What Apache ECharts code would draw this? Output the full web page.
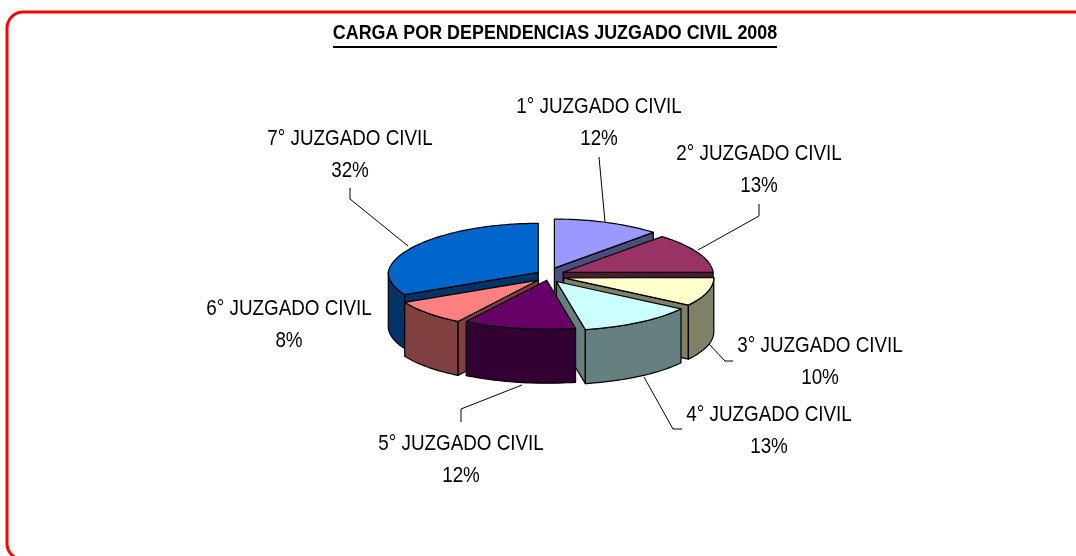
<!DOCTYPE html>
<html><head><meta charset="utf-8">
<style>html,body{margin:0;padding:0;background:#fff}#c{width:1076px;height:556px}</style>
<script src="https://cdn.jsdelivr.net/npm/echarts@6/dist/echarts.min.js"></script>
</head><body><div id="c"></div>
<script>
const chartTitle = 'CARGA POR DEPENDENCIAS JUZGADO CIVIL 2008';
const categories = ['1° JUZGADO CIVIL','2° JUZGADO CIVIL','3° JUZGADO CIVIL','4° JUZGADO CIVIL','5° JUZGADO CIVIL','6° JUZGADO CIVIL','7° JUZGADO CIVIL'];
const values = [12.0, 12.9, 9.51, 12.51, 12.1, 8.49, 32.49];
const topColors = ['#9999FF','#993366','#FFFFCC','#CCFFFF','#660066','#FF8080','#0066CC'];
const sideColors = ['#4D4D80','#4D1A33','#808066','#668080','#330033','#804040','#003366'];

// layout of the drawing
const CX = 548.5, CY = 275.5, RX = 150, RY = 49, DEPTH = 54, BACK_NARROW = 0.05;
const EXPLODE_X = 16, EXPLODE_Y = 8;
const explodeScale = [1, 1, 1, 0.9, 0.6, 0.85, 0.75];
const drawOrder = [0, 1, 2, 6, 5, 3, 4];
const labelLayout = [
  {x:599, y:107, line:[[599,157],[605,222]]},
  {x:759, y:154, line:[[759,204],[759,216],[698,250]]},
  {x:820, y:346, line:[[733,361],[725,361],[709,344]]},
  {x:769, y:415, line:[[682,429],[673,429],[644,377]]},
  {x:461, y:444, line:[[461,422],[461,409],[522,385]]},
  {x:289, y:309, line:null},
  {x:350, y:139, line:[[350,188],[350,199],[408,246]]}
];
const LINE_GAP = 32, LABEL_FONT = '22px "Liberation Sans"', LABEL_SCALE = 0.856;

const total = values.reduce((a, b) => a + b, 0);
const startAngles = [];
values.reduce((acc, v, i) => { startAngles[i] = acc; return acc + v; }, 0);
const toRad = v => v / total * 2 * Math.PI;

function renderSlice(params, api) {
  const i = api.value(0);
  const t0 = toRad(api.value(1)), t1 = t0 + toRad(api.value(2));
  const mid = (t0 + t1) / 2;
  const ax = CX + EXPLODE_X * explodeScale[i] * Math.sin(mid);
  const ay = CY - EXPLODE_Y * explodeScale[i] * Math.cos(mid);
  const P = t => [ax + RX * (1 - BACK_NARROW * Math.max(0, Math.cos(t))) * Math.sin(t), ay - RY * Math.cos(t)];
  const down = p => [p[0], p[1] + DEPTH];
  const arc = (a, b) => {
    const n = Math.max(2, Math.ceil((b - a) / 0.03)), r = [];
    for (let k = 0; k <= n; k++) r.push(P(a + (b - a) * k / n));
    return r;
  };
  const children = [];
  const poly = (pts, fill) => children.push({
    type: 'polygon', shape: {points: pts},
    style: {fill, stroke: '#000', lineWidth: 1.2, lineJoin: 'round'}
  });
  const A = [ax, ay];
  if (Math.sin(t0) < -1e-6) poly([A, P(t0), down(P(t0)), down(A)], sideColors[i]);
  if (Math.sin(t1) > 1e-6) poly([A, P(t1), down(P(t1)), down(A)], sideColors[i]);
  const ra = Math.max(t0, Math.PI / 2), rb = Math.min(t1, 3 * Math.PI / 2);
  if (rb > ra) {
    const top = arc(ra, rb);
    poly(top.concat(top.map(down).reverse()), sideColors[i]);
  }
  poly([A].concat(arc(t0, t1)), topColors[i]);
  return {type: 'group', children};
}

function renderLabel(params, api) {
  const i = api.value(0), lay = labelLayout[i];
  const children = [];
  if (lay.line) children.push({
    type: 'polyline', shape: {points: lay.line},
    style: {fill: 'none', stroke: '#000', lineWidth: 1}
  });
  [categories[i], Math.round(api.value(1) / total * 100) + '%'].forEach((t, k) => {
    children.push({
      type: 'text', x: lay.x, y: lay.y + k * LINE_GAP, scaleX: LABEL_SCALE,
      style: {text: t, font: LABEL_FONT, fill: '#000', textAlign: 'center', textVerticalAlign: 'middle'}
    });
  });
  return {type: 'group', children};
}

const chart = echarts.init(document.getElementById('c'), null, {renderer: 'canvas'});
chart.setOption({
  animation: false,
  backgroundColor: '#fff',
  title: {show: false},
  graphic: [
    {type: 'rect', z: 0, shape: {x: 7, y: 12, width: 1120, height: 547.5, r: 16},
     style: {fill: '#fff', stroke: '#FF0000', lineWidth: 3}},
    {type: 'text', z: 10, x: 555, y: 33, scaleX: 0.852,
     style: {text: chartTitle, font: 'bold 21px "Liberation Sans"', fill: '#000', textAlign: 'center', textVerticalAlign: 'middle'}},
    {type: 'line', z: 10, shape: {x1: 333, y1: 47, x2: 777, y2: 47}, style: {stroke: '#000', lineWidth: 2}}
  ],
  series: [
    {type: 'custom', coordinateSystem: 'none', renderItem: renderSlice, silent: true, z: 5,
     data: drawOrder.map(i => [i, startAngles[i], values[i]])},
    {type: 'custom', coordinateSystem: 'none', renderItem: renderLabel, silent: true, z: 6,
     data: values.map((v, i) => [i, v])}
  ]
});
</script></body></html>
